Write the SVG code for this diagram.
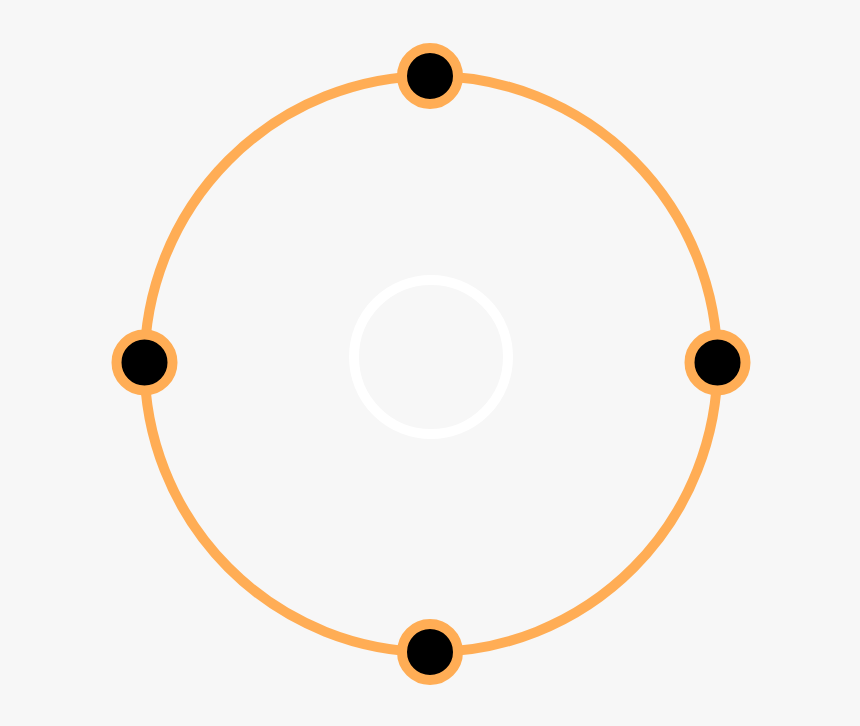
<svg xmlns="http://www.w3.org/2000/svg" width="860" height="726" viewBox="0 0 860 726">
  <style>
    .ring { fill: none; stroke: #FFAD55; stroke-width: 10; }
    .inner { fill: none; stroke: #FFFFFF; stroke-width: 10; }
    .node { fill: #000000; stroke: #FFAD55; stroke-width: 10; }
  </style>
  <rect x="0" y="0" width="860" height="726" fill="#F7F7F7"/>
  <g id="connectors">
    <ellipse class="ring" cx="431" cy="364" rx="286.5" ry="288"/>
  </g>
  <g id="center">
    <circle class="inner" cx="431" cy="357" r="77"/>
  </g>
  <g id="node-top">
    <circle class="node" cx="430" cy="76" r="28"/>
  </g>
  <g id="node-left">
    <circle class="node" cx="144.5" cy="362.5" r="28"/>
  </g>
  <g id="node-right">
    <circle class="node" cx="717.5" cy="362.5" r="28"/>
  </g>
  <g id="node-bottom">
    <circle class="node" cx="430" cy="652" r="28"/>
  </g>
</svg>
